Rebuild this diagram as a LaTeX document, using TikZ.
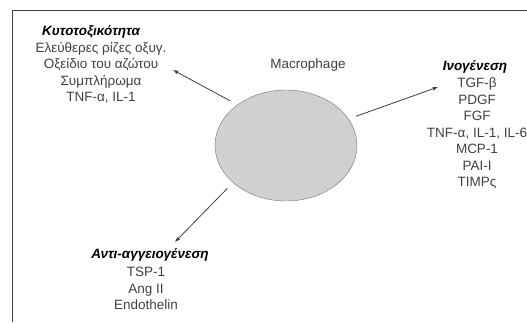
\documentclass[tikz,border=0pt]{standalone}
\usepackage{fontspec}
\setmainfont{Liberation Sans}
\usetikzlibrary{shapes, arrows, positioning}
\definecolor{cellgrey}{rgb}{0.815686, 0.815686, 0.815686}
\definecolor{inkgrey}{rgb}{0.25, 0.25, 0.25}

\tikzset{
    bodytext/.style={color=inkgrey, align=center, inner sep=0pt, font=\fontsize{13.5}{16.5}\selectfont},
    headtext/.style={color=black, inner sep=0pt, font=\fontsize{13.5}{16.5}\selectfont\bfseries\itshape},
    effect/.style={-latex, thick, color=inkgrey, shorten <=8pt}
}

\begin{document}
\begin{tikzpicture}[x=1pt, y=-1pt]
        \useasboundingbox (0,0) rectangle (527,322);
        \draw [line width=1.5pt, color=black!75] (527,10.5) -| (12.5,322);

        \node[draw=black!55, ellipse, fill=cellgrey, minimum width=142pt, minimum height=111pt, inner sep=0pt] (cell) at (286,145.5) {};
        \node[bodytext] (macro) at (308,65) {Macrophage};

        \node[headtext] (cyto) at (91,32) {Κυτοτοξικότητα};
        \node[bodytext] (cytolist) at (101,73) {Ελεύθερες ρίζες οξυγ.\\Οξείδιο του αζώτου\\Συμπλήρωμα\\TNF-α, IL-1};

        \node[headtext] (ino) at (475,67) {Ινογένεση};
        \node[bodytext] (inolist) at (477,133.5) {TGF-β\\PDGF\\FGF\\TNF-α, IL-1, IL-6\\MCP-1\\PAI-I\\TIMPς};

        \node[headtext] (anti) at (150,255) {Αντι-αγγειογένεση};
        \node[bodytext] (antilist) at (146,288.5) {TSP-1\\Ang II\\Endothelin};

        \coordinate (cytotip) at (173,70);
        \coordinate (inotip) at (438,87);
        \coordinate (antitip) at (175,242);

        \draw [effect] (cell.140) -- (cytotip);
        \draw [effect] (cell.23) -- (inotip);
        \draw [effect] (cell.215) -- (antitip);

    \end{tikzpicture}
\end{document}
